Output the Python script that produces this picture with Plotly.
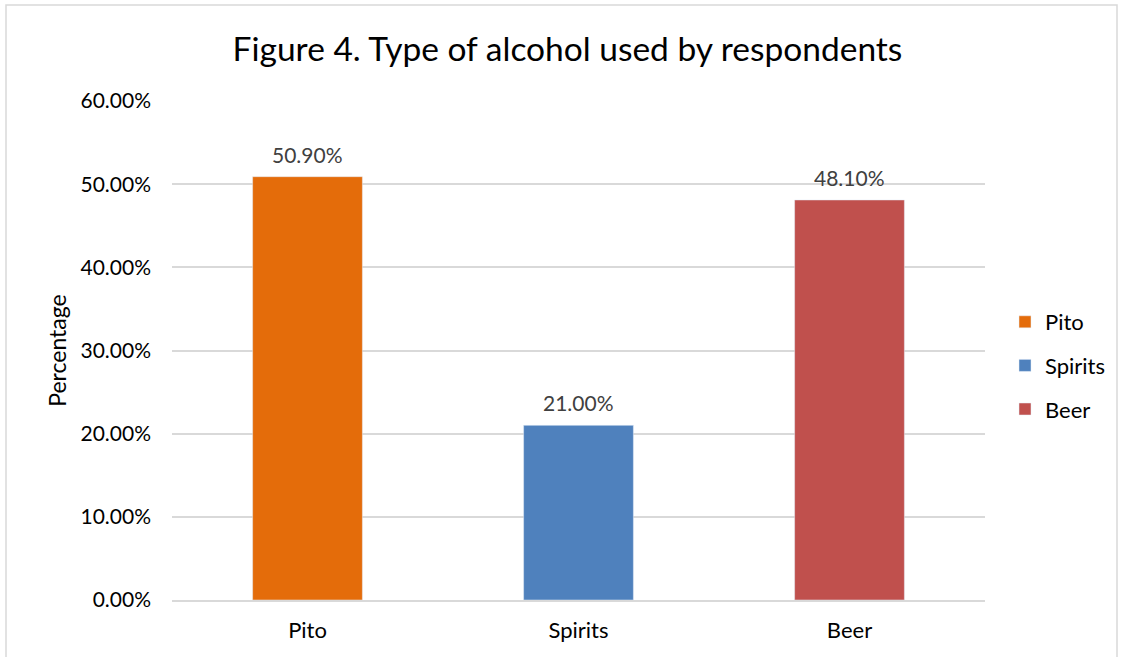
import plotly.graph_objects as go

categories = ["Pito", "Spirits", "Beer"]
values = [50.90, 21.00, 48.10]
colors = ["#E46C0A", "#4F81BD", "#C0504D"]
y_ticks = [0, 10, 20, 30, 40, 50, 60]
y_tick_labels = [f"{v:.2f}%" for v in y_ticks]

FONT = "Lato, Open Sans, sans-serif"

fig = go.Figure()
for c, v, col in zip(categories, values, colors):
    fig.add_trace(go.Bar(
        x=[c], y=[v], name=c, marker_color=col, width=0.405,
        legendgroup=c, hoverinfo="skip",
    ))
    fig.add_annotation(
        x=c, y=v, text=f"{v:.2f}%", showarrow=False, yanchor="bottom",
        yshift=8, font=dict(size=21, color="#404040", family=FONT),
    )

L, R, T, B = 172, 985, 101, 600
W, H = 1123, 657
pw, ph = R - L, B - T

def px2x(p):
    return (p - L) / pw

def py2y(p):
    return (B - p) / ph

fig.add_shape(type="rect", xref="paper", yref="paper",
              x0=px2x(6), x1=px2x(1117), y0=py2y(700), y1=py2y(5),
              line=dict(color="#D9D9D9", width=1.5), fillcolor="rgba(0,0,0,0)",
              layer="below")

fig.update_layout(
    width=W, height=H,
    margin=dict(l=L, r=W - R, t=T, b=H - B, pad=0, autoexpand=False),
    paper_bgcolor="white", plot_bgcolor="white",
    barmode="overlay",
    title=dict(text="Figure 4. Type of alcohol used by respondents",
               x=(232 + 903) / 2 / W, xanchor="center", y=1 - 49 / H, yanchor="middle",
               font=dict(size=33.5, color="#000000", family=FONT)),
    font=dict(family=FONT, color="#404040", size=21),
    showlegend=True,
    legend=dict(x=px2x(1005), xanchor="left", y=py2y(301), yanchor="top",
                font=dict(size=22, color="#000000", family=FONT),
                itemwidth=30, tracegroupgap=12, traceorder="grouped",
                bgcolor="rgba(0,0,0,0)"),
    xaxis=dict(showgrid=False, showline=True, linecolor="#D9D9D9", linewidth=1.5,
               ticks="", tickfont=dict(size=22, color="#000000"),
               ticklabelstandoff=10, fixedrange=True),
    yaxis=dict(range=[0, 60], tickvals=y_ticks, ticktext=y_tick_labels,
               showgrid=True, gridcolor="#D9D9D9", gridwidth=1.5,
               zeroline=False, showline=False, ticks="",
               tickfont=dict(size=21, color="#000000"),
               ticklabelstandoff=20,
               title=dict(text="Percentage", font=dict(size=23, color="#000000"),
                          standoff=7)),
)

fig.write_html("out.html")
